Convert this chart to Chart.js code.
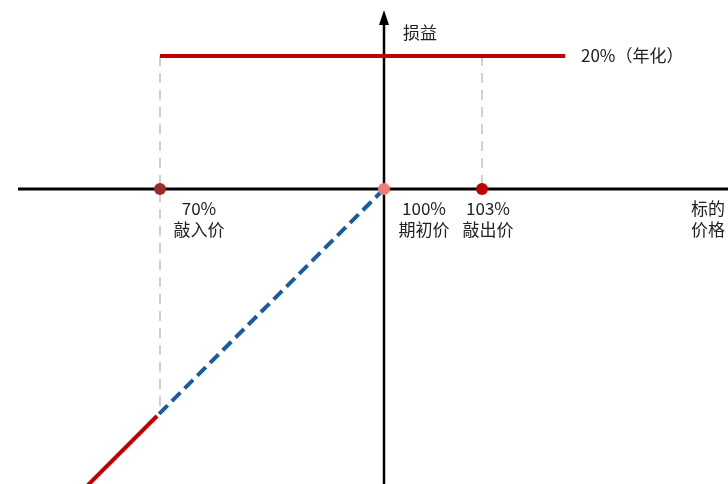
<!DOCTYPE html>
<html>
<head>
<meta charset="utf-8">
<script src="https://cdn.jsdelivr.net/npm/chart.js@4"></script>
<style>
  html, body { margin: 0; padding: 0; background: #fff; }
  canvas { display: block; }
</style>
</head>
<body>
<canvas id="payoffChart" width="728" height="484"></canvas>
<script>
// schematic positions (horizontal: price, vertical: payoff)
const priceLabels = ['70%', '100%', '103%'];
const priceNames = ['敲入价', '期初价', '敲出价'];
const pricePos = [-224, 0, 98];
const pointColors = ['#9e2a2b', '#f47a7a', '#c00000'];

const couponLevel = 133;            // 20% (annualised)
const couponText = '20%（年化）';
const couponRange = [-224, 181];

const lossDashed = [[0, 0], [-227, -227]];
const lossSolid = [[-227, -227], [-310, -310]];

const xAxisRange = [-366, 344];
const yAxisRange = [-295, 165];

function pts(arr) { return arr.map(p => ({ x: p[0], y: p[1] })); }

const labelsPlugin = {
    id: 'labels',
    afterDatasetsDraw(chart) {
        const ctx = chart.ctx;
        const xs = chart.scales.x, ys = chart.scales.y;
        const y0 = ys.getPixelForValue(0);
        const ax = xs.getPixelForValue(0);

        // arrow head on the payoff axis
        const tip = ys.getPixelForValue(yAxisRange[1]);
        ctx.save();
        ctx.fillStyle = '#000';
        ctx.beginPath();
        ctx.moveTo(ax, tip - 14);
        ctx.lineTo(ax - 5, tip + 1);
        ctx.lineTo(ax + 5, tip + 1);
        ctx.closePath();
        ctx.fill();

        ctx.font = '17px "Noto Sans CJK SC", sans-serif';
        ctx.fillStyle = '#222';
        ctx.textBaseline = 'middle';
        ctx.textAlign = 'center';
        const offs = [39, 40, 6];
        pricePos.forEach((p, i) => {
            const px = xs.getPixelForValue(p) + offs[i];
            ctx.fillText(priceLabels[i], px, y0 + 20);
            ctx.fillText(priceNames[i], px, y0 + 41);
        });

        ctx.textAlign = 'left';
        ctx.fillText('标的', 691, y0 + 20);
        ctx.fillText('价格', 691, y0 + 41);
        ctx.fillText('损益', ax + 19, 33);
        ctx.fillText(couponText, xs.getPixelForValue(couponRange[1]) + 16, ys.getPixelForValue(couponLevel));
        ctx.restore();
    }
};

new Chart(document.getElementById('payoffChart'), {
    type: 'scatter',
    data: {
        datasets: [
            {
                data: pricePos.map(p => ({ x: p, y: 0 })), order: 0,
                pointRadius: 6, backgroundColor: pointColors, borderColor: pointColors,
                pointBackgroundColor: pointColors, pointBorderColor: pointColors, pointBorderWidth: 0
            },
            {
                data: pts([[couponRange[0], couponLevel], [couponRange[1], couponLevel]]), order: 1,
                showLine: true, borderColor: '#c00000', borderWidth: 4, pointRadius: 0
            },
            {
                data: pts(lossSolid), order: 1,
                showLine: true, borderColor: '#c00000', borderWidth: 4, pointRadius: 0
            },
            {
                data: pts(lossDashed), order: 2,
                showLine: true, borderColor: '#1c5c9c', borderWidth: 4, borderDash: [12, 6], pointRadius: 0
            },
            {
                data: pts([[xAxisRange[0], 0], [xAxisRange[1], 0]]), order: 3,
                showLine: true, borderColor: '#000', borderWidth: 3, pointRadius: 0
            },
            {
                data: pts([[0, yAxisRange[0]], [0, yAxisRange[1]]]), order: 3,
                showLine: true, borderColor: '#000', borderWidth: 2.5, pointRadius: 0
            },
            {
                data: pts([[pricePos[0], couponLevel], [pricePos[0], -222]]), order: 4,
                showLine: true, borderColor: '#d0d0d0', borderWidth: 2, borderDash: [10, 7], pointRadius: 0
            },
            {
                data: pts([[pricePos[2], couponLevel], [pricePos[2], 0]]), order: 4,
                showLine: true, borderColor: '#d0d0d0', borderWidth: 2, borderDash: [10, 7], pointRadius: 0
            }
        ]
    },
    options: {
        responsive: false,
        animation: false,
        layout: { padding: 0, autoPadding: false },
        plugins: { legend: { display: false }, tooltip: { enabled: false } },
        scales: {
            x: { type: 'linear', min: -384, max: 344, display: false },
            y: { type: 'linear', min: -295, max: 189, display: false }
        }
    },
    plugins: [labelsPlugin]
});
</script>
</body>
</html>
